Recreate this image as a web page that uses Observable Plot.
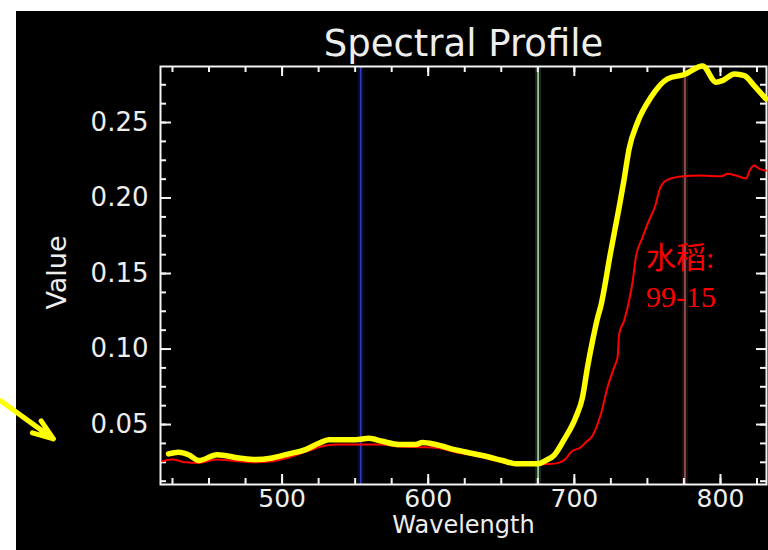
<!DOCTYPE html>
<html>
<head>
<meta charset="utf-8">
<script src="https://cdn.jsdelivr.net/npm/d3@7"></script>
<script src="https://cdn.jsdelivr.net/npm/@observablehq/plot@0.6"></script>
<style>
  html, body { margin: 0; padding: 0; background: #fff; }
  #wrap { position: relative; width: 768px; height: 550px; overflow: hidden; }
  #panel { position: absolute; left: 16px; top: 11px; right: 0; bottom: 0; background: #000; }
  #chart { position: absolute; left: 0; top: 0; }
</style>
</head>
<body>
<div id="wrap"><div id="panel"></div><div id="chart"></div></div>
<script>
// Reference spectrum (yellow)
const refWavelength = [422.3, 429, 436, 443, 455.6, 470.4, 481.8, 493.3, 504.7, 516, 525.2, 532, 550.3, 559.5, 568.6, 580, 591.4, 596, 605, 618.8, 637, 650.8, 660, 673.6, 677, 681, 686, 693, 701, 705.6, 709, 712.5, 716, 718, 725, 730.7, 734, 737.5, 743.3, 752.4, 763.8, 775.2, 787.8, 797, 801.5, 809.5, 816.3, 823, 831];
const refValue = [0.0306, 0.0317, 0.0300, 0.0262, 0.0300, 0.0279, 0.0268, 0.0279, 0.0306, 0.0334, 0.0376, 0.0400, 0.0400, 0.0409, 0.0389, 0.0368, 0.0368, 0.0381, 0.0368, 0.0332, 0.0295, 0.0262, 0.0240, 0.0240, 0.0245, 0.0265, 0.0295, 0.0400, 0.0548, 0.0681, 0.0880, 0.1056, 0.1210, 0.1280, 0.1650, 0.1940, 0.2120, 0.2326, 0.2502, 0.2667, 0.2789, 0.2818, 0.2875, 0.2767, 0.2778, 0.2822, 0.2811, 0.2745, 0.2657];

// Rice spectrum, sample 99-15 (red)
const riceWavelength = [418, 424.8, 434, 443, 454.5, 470.4, 481.8, 493.3, 504.7, 518.4, 529.8, 538.9, 555, 568, 580, 596, 605, 618.8, 637, 650.8, 660, 673.6, 682.7, 689.6, 694.2, 697.6, 704.5, 707.9, 712.5, 718.2, 722.7, 727.3, 729.6, 730.7, 734.1, 737.5, 740, 742.1, 746.7, 750.1, 755.8, 758.1, 762.7, 773, 786.6, 800.3, 805, 810.6, 817.5, 820, 823, 826.6, 831];
const riceValue = [0.0257, 0.0268, 0.0250, 0.0246, 0.0268, 0.0257, 0.0250, 0.0257, 0.0283, 0.0328, 0.0361, 0.0368, 0.0368, 0.0368, 0.0354, 0.0350, 0.0346, 0.0317, 0.0283, 0.0250, 0.0235, 0.0235, 0.0238, 0.0248, 0.0273, 0.0317, 0.0350, 0.0383, 0.0427, 0.0571, 0.0747, 0.0880, 0.0946, 0.1100, 0.1189, 0.1321, 0.1454, 0.1608, 0.1740, 0.1829, 0.1962, 0.2050, 0.2116, 0.2142, 0.2149, 0.2144, 0.2160, 0.2149, 0.2130, 0.2182, 0.2215, 0.2193, 0.2182];

// Display bands (B, G, R) marked on the profile
const bandWavelength = [553.8, 675.2, 775.7];

// Axis ticks
const xTickMajor = [500, 600, 700, 800];
const xTickMinor = [425, 450, 475, 500, 525, 550, 575, 600, 625, 650, 675, 700, 725, 750, 775, 800, 825];
const yTickMajor = [0.05, 0.10, 0.15, 0.20, 0.25];
const yTickMinor = [0.0125, 0.025, 0.0375, 0.05, 0.0625, 0.075, 0.0875, 0.10, 0.1125, 0.125, 0.1375, 0.15, 0.1625, 0.175, 0.1875, 0.20, 0.2125, 0.225, 0.2375, 0.25, 0.2625, 0.275];

const refSeries = refWavelength.map((w, i) => ({w, v: refValue[i]}));
const riceSeries = riceWavelength.map((w, i) => ({w, v: riceValue[i]}));

const W = 768, H = 550;
const mL = 160, mR = 2, mT = 66, mB = 66;
const frameW = W - mL - mR, frameH = H - mT - mB;
const bandColors = ["#2c3cc0", "#a6d8a6", "#a05858"];
const font = "DejaVu Sans";
const ink = "#eeeeee";
const axisInk = "#f4f4f4";
const pointer = {x1: 307.2, y1: 0.0659, x2: 343.5, y2: 0.0405};

const chart = Plot.plot({
  width: W, height: H,
  marginLeft: mL, marginRight: mR, marginTop: mT, marginBottom: mB,
  x: {domain: [416.8, 831.5]},
  y: {domain: [0.0103, 0.2871]},
  style: {background: "transparent", color: ink, fontFamily: font},
  marks: [
    // band markers with a soft glow
    Plot.ruleX(bandWavelength, {x: d => d, stroke: (d, i) => bandColors[i], strokeWidth: 6, strokeOpacity: 0.18}),
    Plot.ruleX(bandWavelength, {x: d => d, stroke: (d, i) => bandColors[i], strokeWidth: 1.6}),
    Plot.frame({stroke: axisInk, strokeWidth: 2}),
    // inward ticks on all four sides
    Plot.tickX(xTickMinor, {x: d => d, stroke: axisInk, strokeWidth: 2, insetTop: frameH - 6}),
    Plot.tickX(xTickMajor, {x: d => d, stroke: axisInk, strokeWidth: 2, insetTop: frameH - 10}),
    Plot.tickX(xTickMinor, {x: d => d, stroke: axisInk, strokeWidth: 2, insetBottom: frameH - 6}),
    Plot.tickX(xTickMajor, {x: d => d, stroke: axisInk, strokeWidth: 2, insetBottom: frameH - 10}),
    Plot.tickY(yTickMinor, {y: d => d, stroke: axisInk, strokeWidth: 2, insetRight: frameW - 6}),
    Plot.tickY(yTickMajor, {y: d => d, stroke: axisInk, strokeWidth: 2, insetRight: frameW - 11}),
    Plot.tickY(yTickMinor, {y: d => d, stroke: axisInk, strokeWidth: 2, insetLeft: frameW - 6}),
    Plot.tickY(yTickMajor, {y: d => d, stroke: axisInk, strokeWidth: 2, insetLeft: frameW - 10}),
    Plot.axisX({ticks: xTickMajor, anchor: "bottom", tickSize: 0, tickPadding: 5, label: null, tickFormat: d3.format("d"), fontSize: 25, fill: ink}),
    Plot.axisY({ticks: yTickMajor, anchor: "left", tickSize: 0, tickPadding: 12, label: null, tickFormat: d3.format(".2f"), fontSize: 26, fill: ink}),
    // spectra
    Plot.line(riceSeries, {x: "w", y: "v", stroke: "#ff0000", strokeWidth: 2, curve: "monotone-x"}),
    Plot.line(refSeries, {x: "w", y: "v", stroke: "#ffff00", strokeWidth: 5.5, strokeLinejoin: "round", strokeLinecap: "round", curve: "monotone-x"}),
    // titles
    Plot.text(["Spectral Profile"], {frameAnchor: "top", lineAnchor: "bottom", dy: -11, fontSize: 37, fill: ink}),
    Plot.text(["Wavelength"], {frameAnchor: "bottom", lineAnchor: "bottom", dy: 48, fontSize: 24, fill: ink}),
    Plot.text(["Value"], {frameAnchor: "left", textAnchor: "middle", dx: -103, dy: -3, rotate: -90, fontSize: 27, fill: ink}),
    // series label
    Plot.text(["水稻:\n99-15"], {x: 749, y: 0.1722, textAnchor: "start", lineAnchor: "top", lineHeight: 1.31, fontSize: 30, fill: "#ff0000", fontFamily: "Liberation Serif, Times New Roman, serif, Noto Sans CJK SC"}),
    // pointer arrow at the left edge
    Plot.arrow([pointer], {x1: "x1", y1: "y1", x2: "x2", y2: "y2", stroke: "#ffff00", strokeWidth: 5, headLength: 9, headAngle: 40, strokeLinejoin: "miter"})
  ]
});

// keep the pointer arrow bold
d3.select(chart).selectAll("g[aria-label='arrow'] path").attr("stroke-width", 5);

document.getElementById("chart").appendChild(chart);
</script>
</body>
</html>
